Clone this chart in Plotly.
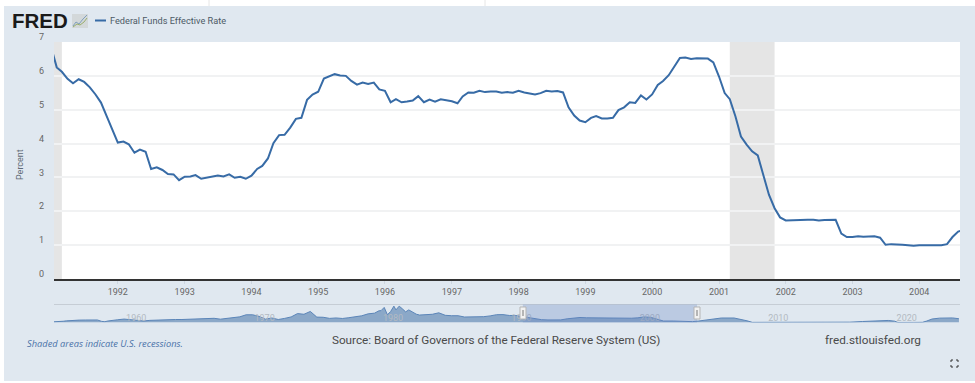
import plotly.graph_objects as go

W, H = 975, 383

# ---- Main series: monthly Federal Funds Effective Rate (percent)
start_year = 1991
fedfunds = [
    6.85, 6.25, 6.12, 5.91, 5.78, 5.90, 5.82, 5.66, 5.45, 5.21, 4.81, 4.43,
    4.03, 4.06, 3.98, 3.73, 3.82, 3.76, 3.25, 3.30, 3.22, 3.10, 3.09, 2.92,
    3.02, 3.03, 3.07, 2.96, 3.00, 3.04, 3.06, 3.03, 3.09, 2.99, 3.02, 2.96,
    3.05, 3.25, 3.34, 3.56, 4.01, 4.25, 4.26, 4.47, 4.73, 4.76, 5.29, 5.45,
    5.53, 5.92, 5.98, 6.05, 6.01, 6.00, 5.85, 5.74, 5.80, 5.76, 5.80, 5.60,
    5.56, 5.22, 5.31, 5.22, 5.24, 5.27, 5.40, 5.22, 5.30, 5.24, 5.31, 5.29,
    5.25, 5.19, 5.39, 5.51, 5.50, 5.56, 5.52, 5.54, 5.54, 5.50, 5.52, 5.50,
    5.56, 5.51, 5.49, 5.45, 5.49, 5.56, 5.54, 5.55, 5.51, 5.07, 4.83, 4.68,
    4.63, 4.76, 4.81, 4.74, 4.74, 4.76, 4.99, 5.07, 5.22, 5.20, 5.42, 5.30,
    5.45, 5.73, 5.85, 6.02, 6.27, 6.53, 6.54, 6.50, 6.52, 6.51, 6.51, 6.40,
    5.98, 5.49, 5.31, 4.80, 4.21, 3.97, 3.77, 3.65, 3.07, 2.49, 2.09, 1.82,
    1.73, 1.74, 1.73, 1.75, 1.75, 1.75, 1.73, 1.74, 1.75, 1.75, 1.34, 1.24,
    1.24, 1.26, 1.25, 1.26, 1.26, 1.22, 1.01, 1.03, 1.01, 1.01, 1.00, 0.98,
    1.00, 1.01, 1.00, 1.00, 1.00, 1.03, 1.24, 1.40, 1.45,
]
dates = [f"{start_year + i // 12}-{i % 12 + 1:02d}-01" for i in range(len(fedfunds))]

# ---- Overview (navigator) series
nav_dates = [
    "1954-07", "1954-10", "1955-01", "1955-04", "1955-07", "1955-10", "1956-01", "1956-07", "1957-01", "1957-07",
    "1957-12", "1958-04", "1958-07", "1958-10", "1959-01", "1959-07", "1960-01", "1960-07", "1961-01", "1961-07",
    "1962-01", "1962-07", "1963-01", "1963-07", "1964-01", "1964-07", "1965-01", "1965-07", "1966-01", "1966-07",
    "1967-01", "1967-07", "1968-01", "1968-07", "1969-01", "1969-07", "1970-01", "1970-07", "1971-01", "1971-07",
    "1972-01", "1972-07", "1973-01", "1973-07", "1974-01", "1974-07", "1975-01", "1975-07", "1976-01", "1976-07",
    "1977-01", "1977-07", "1978-01", "1978-07", "1979-01", "1979-07", "1979-11", "1980-01", "1980-04", "1980-07",
    "1980-10", "1981-01", "1981-03", "1981-06", "1981-09", "1981-12", "1982-03", "1982-07", "1982-10", "1983-01",
    "1983-07", "1984-01", "1984-07", "1985-01", "1985-07", "1986-01", "1986-07", "1987-01", "1987-07", "1988-01",
    "1988-07", "1989-01", "1989-07", "1990-01", "1990-07", "1991-01", "1991-07", "1992-01", "1992-07", "1993-01",
    "1994-01", "1994-07", "1995-01", "1995-07", "1996-01", "1997-01", "1998-01", "1998-12", "1999-07", "2000-01",
    "2000-07", "2001-01", "2001-07", "2002-01", "2002-10", "2003-07", "2004-04", "2004-10", "2005-07", "2006-07",
    "2007-07", "2008-01", "2008-07", "2008-12", "2009-07", "2012-01", "2015-10", "2016-07", "2017-07", "2018-07",
    "2019-07", "2020-01", "2020-04", "2021-07", "2022-03", "2022-07", "2022-12", "2023-07", "2024-07", "2025-01",
]
nav_values = [
    0.8, 0.85, 1.4, 1.45, 1.9, 2.3, 2.5, 2.8, 2.9, 3.0,
    2.95, 1.3, 0.9, 1.8, 2.5, 3.2, 4.0, 3.0, 2.0, 1.8,
    2.5, 2.9, 2.9, 3.1, 3.5, 3.5, 3.9, 4.1, 4.5, 5.2,
    4.9, 3.9, 4.6, 6.0, 6.6, 9.0, 9.0, 7.2, 3.9, 5.3,
    3.5, 4.8, 6.5, 10.4, 9.6, 12.9, 6.3, 6.1, 4.8, 5.3,
    4.7, 5.6, 6.8, 7.8, 10.1, 10.9, 13.6, 13.8, 17.6, 9.0,
    12.8, 19.1, 14.7, 19.1, 15.9, 12.4, 14.7, 11.4, 9.7, 8.7,
    9.4, 9.6, 11.3, 8.4, 7.9, 7.9, 6.4, 6.4, 6.7, 6.8,
    7.7, 9.1, 9.2, 8.2, 8.2, 6.9, 5.8, 4.0, 3.3, 3.0,
    3.05, 4.3, 5.5, 5.85, 5.5, 5.25, 5.55, 4.7, 5.0, 5.45,
    6.54, 5.98, 3.77, 1.73, 1.75, 1.0, 1.0, 1.76, 3.2, 5.25,
    5.25, 3.9, 2.0, 0.16, 0.16, 0.1, 0.12, 0.4, 1.15, 1.9,
    2.4, 1.55, 0.05, 0.1, 0.2, 1.7, 4.1, 5.1, 5.33, 4.4,
]

recessions = [("1990-07-01", "1991-03-01"), ("2001-03-01", "2001-11-01")]
year_ticks = [f"{y}-01-01" for y in range(1992, 2005)]
year_labels = [str(y) for y in range(1992, 2005)]
y_ticks = [0, 1, 2, 3, 4, 5, 6, 7]
nav_ticks = [f"{y}-01-01" for y in range(1960, 2021, 10)]
nav_labels = [str(y) for y in range(1960, 2021, 10)]
view_start, view_end = "1991-01-17", "2004-08-11"
nav_start, nav_end = "1954-07-15", "2025-02-01"

BG = "#e0e8f0"
LINE = "#376ba6"


def px(x):
    return x / W


def py(y):
    return 1 - y / H


fig = go.Figure()
fig.add_trace(go.Scatter(x=dates, y=fedfunds, mode="lines", name="Federal Funds Effective Rate",
                         line=dict(color=LINE, width=2), xaxis="x", yaxis="y", showlegend=False))
fig.add_trace(go.Scatter(x=[d + "-01" for d in nav_dates], y=nav_values, mode="lines", fill="tozeroy",
                         line=dict(color="#5b85b8", width=1), fillcolor="rgba(69,114,167,0.55)",
                         xaxis="x2", yaxis="y2", showlegend=False))

shapes = [
    dict(type="rect", xref="paper", yref="paper", x0=px(4), x1=1, y0=py(381), y1=py(6),
         fillcolor=BG, line_width=0, layer="below"),
    dict(type="line", xref="paper", yref="paper", x0=px(209), x1=px(209), y0=py(6), y1=1,
         line=dict(color="#e6e6e6", width=1), layer="below"),
    dict(type="line", xref="paper", yref="paper", x0=px(485), x1=px(485), y0=py(6), y1=1,
         line=dict(color="#e6e6e6", width=1), layer="below"),
    dict(type="rect", xref="paper", yref="paper", x0=px(54), x1=px(960), y0=py(279), y1=py(42),
         fillcolor="white", line_width=0, layer="below"),
    # logo chart badge
    dict(type="rect", xref="paper", yref="paper", x0=px(72), x1=px(88), y0=py(28), y1=py(14),
         fillcolor="#d3d8da", line_width=0),
    dict(type="path", xref="paper", yref="paper",
         path=f"M {px(73)} {py(26)} L {px(76)} {py(22)} L {px(79)} {py(24)} L {px(83)} {py(19)} L {px(87)} {py(15)}",
         line=dict(color="#7f9fbc", width=1)),
    dict(type="path", xref="paper", yref="paper",
         path=f"M {px(73)} {py(27)} L {px(77)} {py(24)} L {px(80)} {py(25)} L {px(84)} {py(22)} L {px(87)} {py(18)}",
         line=dict(color="#9aae6e", width=1)),
    # legend swatch
    dict(type="line", xref="paper", yref="paper", x0=px(95), x1=px(106), y0=py(20.5), y1=py(20.5),
         line=dict(color=LINE, width=2)),
    # navigator top rule
    dict(type="line", xref="paper", yref="paper", x0=px(54), x1=px(960), y0=py(304.5), y1=py(304.5),
         line=dict(color="#c6cdd5", width=1)),
    # navigator selection
    dict(type="rect", xref="x2", yref="paper", x0=view_start, x1=view_end, y0=py(322.5), y1=py(304.5),
         fillcolor="rgba(102,133,194,0.3)", line_width=0),
]
for r0, r1 in recessions:
    shapes.append(dict(type="rect", xref="x", yref="y", x0=r0, x1=r1, y0=0, y1=7,
                       fillcolor="#e5e5e5", line_width=0, layer="below"))
# navigator handles
for cx in (523, 697):
    shapes.append(dict(type="rect", xref="paper", yref="paper", x0=px(cx - 3), x1=px(cx + 3),
                       y0=py(319), y1=py(307), fillcolor="#f2f2f2", line=dict(color="#b5b5b5", width=1)))
    shapes.append(dict(type="rect", xref="paper", yref="paper", x0=px(cx - 1), x1=px(cx + 1),
                       y0=py(316), y1=py(310), fillcolor="#b5b5b5", line_width=0))
# fullscreen icon
ix0, ix1, iy0, iy1 = 951, 958, 360, 367
for cx, cy, dx, dy in ((ix0, iy0, 2, 2), (ix1, iy0, -2, 2), (ix0, iy1, 2, -2), (ix1, iy1, -2, -2)):
    shapes.append(dict(type="path", xref="paper", yref="paper",
                       path=f"M {px(cx + dx)} {py(cy)} L {px(cx)} {py(cy)} L {px(cx)} {py(cy + dy)}",
                       line=dict(color="#333333", width=1)))


def note(text, x, y, size, color, family="Roboto", xanchor="left", **kw):
    return dict(text=text, xref="paper", yref="paper", x=px(x), y=py(y), showarrow=False,
                xanchor=xanchor, yanchor="middle", font=dict(family=family, size=size, color=color, **kw))


annotations = [
    note("FRED", 10, 20.5, 20.5, "#1a1a1a", family="Liberation Sans", weight=900),
    note("Federal Funds Effective Rate", 108, 20.5, 9.2, "#4d5a66"),
    note("Source: Board of Governors of the Federal Reserve System (US)", 330, 340, 11.7, "#4a4a4a"),
    note("fred.stlouisfed.org", 823, 340, 11.75, "#4a4a4a"),
    note("Shaded areas indicate U.S. recessions.", 25, 343, 9.3, "#4a72a8", family="Open Sans", style="italic"),
    note("Percent", 20, 165, 9, "#5f6a75", xanchor="center"),
]
annotations[-1]["textangle"] = -90

fig.update_layout(
    width=W, height=H, margin=dict(l=0, r=0, t=0, b=0), autosize=False,
    paper_bgcolor="white", plot_bgcolor="rgba(0,0,0,0)",
    font=dict(family="Roboto", color="#666666", size=9),
    shapes=shapes, annotations=annotations,
    xaxis=dict(domain=[px(54), px(960)], anchor="y", type="date", range=[view_start, view_end],
               tickmode="array", tickvals=year_ticks, ticktext=year_labels, showgrid=False,
               ticks="outside", ticklen=3, tickcolor="#cdd6e0", tickwidth=1, automargin=False,
               showline=True, linecolor="#333333", linewidth=1.5,
               tickfont=dict(size=9, color="#666666")),
    yaxis=dict(domain=[py(279), py(42)], anchor="x", range=[0, 7], tickmode="array", tickvals=y_ticks,
               showgrid=True, gridcolor="#f1f2f3", gridwidth=1.5, zeroline=False, showline=False,
               ticks="", ticklabelstandoff=9, ticklabelshift=-5, automargin=False,
               tickfont=dict(size=9, color="#666666")),
    xaxis2=dict(domain=[px(54), px(960)], anchor="y2", type="date", range=[nav_start, nav_end],
                tickmode="array", tickvals=nav_ticks, ticktext=nav_labels, showgrid=False,
                ticks="", ticklabelposition="inside", ticklabelshift=12, ticklabelstandoff=-3,
                automargin=False, showline=False, zeroline=False,
                tickfont=dict(size=9, color="#b3bac2")),
    yaxis2=dict(domain=[py(322.5), py(304.5)], anchor="x2", range=[0, 21], showgrid=False, automargin=False,
                zeroline=False, showticklabels=False, ticks="", showline=False),
)

fig.write_html(
    "out.html",
    config=dict(displayModeBar=False),
    post_script="document.body.style.margin='0';document.body.style.overflow='hidden';",
)
